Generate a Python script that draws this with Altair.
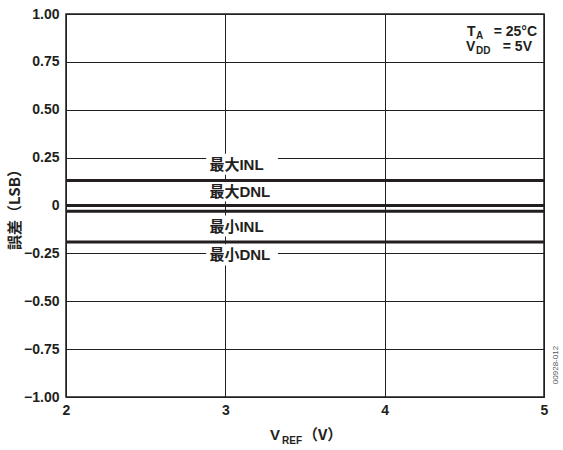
import altair as alt
import pandas as pd

# Error levels (LSB) across the reference-voltage sweep
vref = [2, 5]
series = ["最大INL", "最大DNL", "最小INL", "最小DNL"]
error_lsb = [0.13, 0.0, -0.03, -0.19]

# In-plot labels (data coordinates)
label_x = [2.9, 2.9, 2.9, 2.9]
label_y = [0.212, 0.073, -0.11, -0.261]

x_ticks = [2, 3, 4, 5]
y_ticks = [-1.0, -0.75, -0.5, -0.25, 0, 0.25, 0.5, 0.75, 1.0]

INK = "#231f20"
LATIN = "Liberation Sans, Noto Sans CJK JP"
CJK = "Noto Sans CJK JP"

lines_df = pd.DataFrame(
    [{"vref": v, "err": e, "series": s} for s, e in zip(series, error_lsb) for v in vref]
)
labels_df = pd.DataFrame({"label": series, "x": label_x, "y": label_y})
labels_df["x0"] = labels_df["x"] - 0.02
labels_df["x1"] = labels_df["x"] + 0.43
labels_df["y0"] = labels_df["y"] + 0.058
labels_df["y1"] = labels_df["y"] - 0.052

x_scale = alt.Scale(domain=[2, 5], nice=False, zero=False)
y_scale = alt.Scale(domain=[-1, 1], nice=False)

x_axis = alt.Axis(values=x_ticks, format="d", title=None, grid=True,
                  labelPadding=6, labelFontSize=14, labelFont=LATIN,
                  labelFontWeight="bold", labelFlush=False)
y_axis = alt.Axis(values=y_ticks, title=None, grid=True,
                  labelExpr="datum.value == 0 ? '0' : replace(format(datum.value, '.2f'), '-', '\u2212')",
                  labelPadding=7, labelFontSize=14, labelFont=LATIN,
                  labelFontWeight="bold")

# White patches behind the labels so the grid breaks around them
boxes = alt.Chart(labels_df).mark_rect(color="white").encode(
    x=alt.X("x0:Q", scale=x_scale, axis=x_axis),
    x2="x1:Q",
    y=alt.Y("y0:Q", scale=y_scale, axis=y_axis),
    y2="y1:Q",
)

lines = alt.Chart(lines_df).mark_line(strokeWidth=3, color=INK).encode(
    x=alt.X("vref:Q", scale=x_scale, axis=x_axis),
    y=alt.Y("err:Q", scale=y_scale, axis=y_axis),
    detail="series:N",
)

labels = alt.Chart(labels_df).mark_text(
    align="left", baseline="middle", fontSize=15, font=LATIN,
    fontWeight="bold", color=INK,
).encode(
    x=alt.X("x:Q", scale=x_scale, axis=x_axis),
    y=alt.Y("y:Q", scale=y_scale, axis=y_axis),
    text="label:N",
)


def txt(s, x, y, size=15, font=LATIN, weight="bold", align="left",
        baseline="alphabetic", angle=0, color=INK):
    return alt.Chart(pd.DataFrame({"t": [s]})).mark_text(
        align=align, baseline=baseline, fontSize=size, font=font,
        fontWeight=weight, angle=angle, color=color,
    ).encode(x=alt.value(x), y=alt.value(y), text="t:N")


notes = [
    # T_A = 25°C
    txt("T", 401, 22, size=14),
    txt("A", 410, 25, size=10),
    txt("= 25°C", 471, 22, size=14, align="right"),
    # V_DD = 5V
    txt("V", 400, 37, size=14),
    txt("DD", 410, 40, size=10),
    txt("= 5V", 466, 37, size=14, align="right"),
    # x-axis title: V_REF（V）
    txt("V", 204, 426),
    txt("REF", 216, 430, size=10),
    txt("（V）", 237, 426, font=CJK),
    # y-axis title
    txt("誤差（LSB）", -51, 192, font=CJK, align="center",
        baseline="middle", angle=270),
    # figure id
    txt("00928-012", 490, 351, size=8, weight="normal", align="center",
        baseline="middle", angle=270, color="#555555"),
]

chart = alt.layer(boxes, lines, labels, *notes).properties(
    width=478,
    height=383,
    autosize=alt.AutoSizeParams(type="none"),
    padding={"left": 66, "top": 14, "right": 19, "bottom": 53},
).configure_view(
    stroke=INK, strokeWidth=1.5,
).configure_axis(
    domain=False, ticks=False, gridColor=INK, gridWidth=1, gridOpacity=1,
    labelColor=INK,
)

chart.save("out.html", embed_options={"renderer": "svg", "actions": False})
